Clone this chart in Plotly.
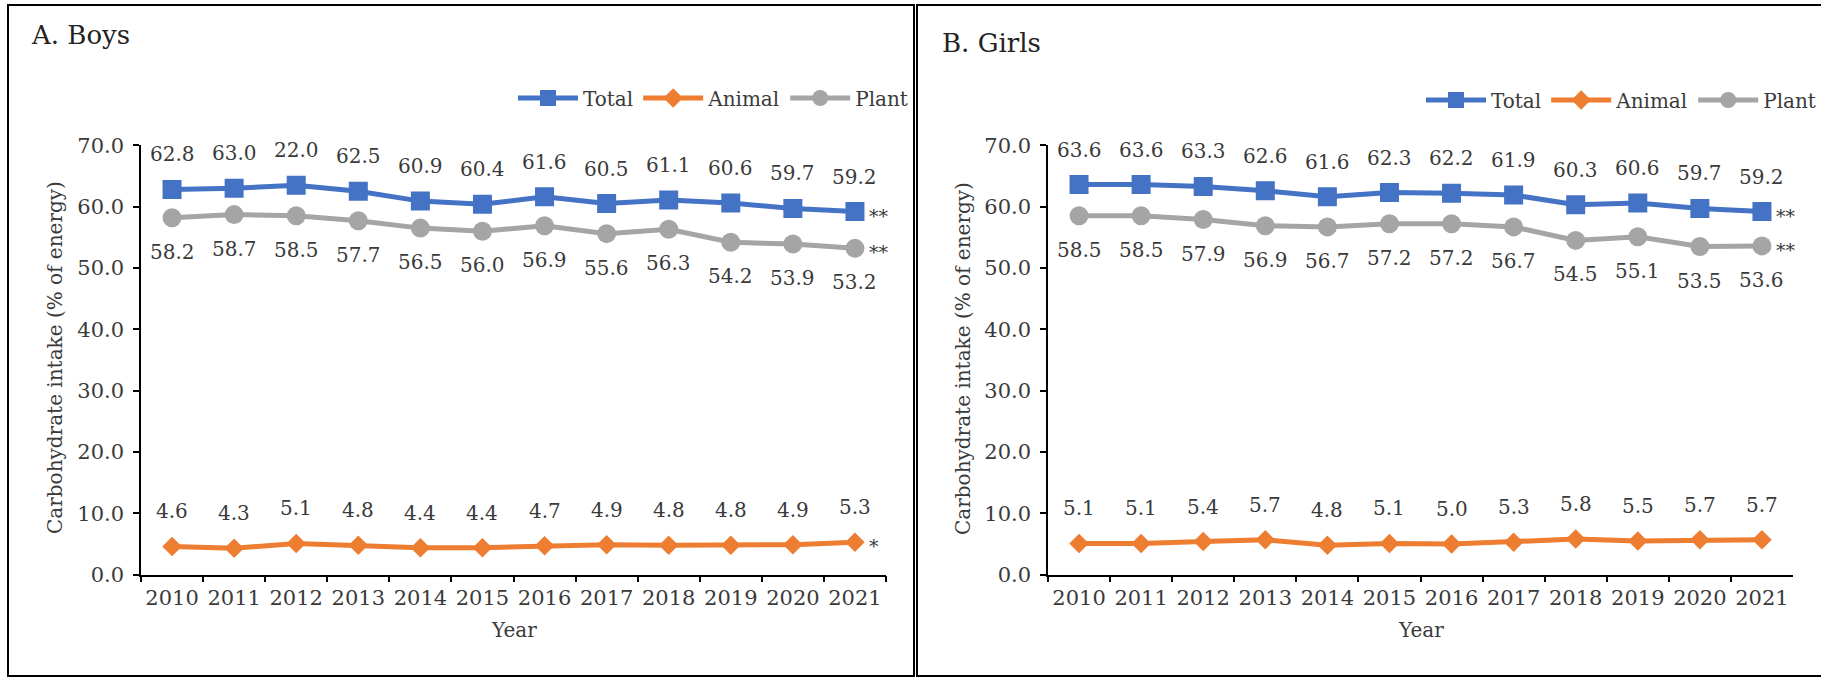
import plotly.graph_objects as go

# ---- data -------------------------------------------------------------
years = ["2010", "2011", "2012", "2013", "2014", "2015",
         "2016", "2017", "2018", "2019", "2020", "2021"]

boys_total = [62.8, 63.0, 63.5, 62.5, 60.9, 60.4, 61.6, 60.5, 61.1, 60.6, 59.7, 59.2]
boys_total_labels = ["62.8", "63.0", "22.0", "62.5", "60.9", "60.4",
                     "61.6", "60.5", "61.1", "60.6", "59.7", "59.2"]
boys_animal = [4.6, 4.3, 5.1, 4.8, 4.4, 4.4, 4.7, 4.9, 4.8, 4.8, 4.9, 5.3]
boys_plant = [58.2, 58.7, 58.5, 57.7, 56.5, 56.0, 56.9, 55.6, 56.3, 54.2, 53.9, 53.2]

girls_total = [63.6, 63.6, 63.3, 62.6, 61.6, 62.3, 62.2, 61.9, 60.3, 60.6, 59.7, 59.2]
girls_animal = [5.1, 5.1, 5.4, 5.7, 4.8, 5.1, 5.0, 5.3, 5.8, 5.5, 5.7, 5.7]
girls_plant = [58.5, 58.5, 57.9, 56.9, 56.7, 57.2, 57.2, 56.7, 54.5, 55.1, 53.5, 53.6]

# trend significance markers shown after the last year
boys_sig = {"Total": "**", "Animal": "*", "Plant": "**"}
girls_sig = {"Total": "**", "Animal": "", "Plant": "**"}

y_ticks = [0, 10, 20, 30, 40, 50, 60, 70]

# ---- styling ----------------------------------------------------------
W, H = 1821, 677
FONT = "DejaVu Serif"
TXT = "#3a3a3a"
BLUE, ORANGE, GREY = "#4472C4", "#ED7D31", "#A5A5A5"


def px(x):
    return x / W


def py(y):
    return 1 - y / H


fig = go.Figure()

panels = [
    dict(name="Boys", title="A. Boys", xa="x", ya="y", legend="legend",
         total=boys_total, total_labels=boys_total_labels,
         animal=boys_animal, plant=boys_plant, sig=boys_sig,
         title_xy=(29, 35), ytitle_x=55),
    dict(name="Girls", title="B. Girls", xa="x2", ya="y2", legend="legend2",
         total=girls_total, total_labels=[f"{v:.1f}" for v in girls_total],
         animal=girls_animal, plant=girls_plant, sig=girls_sig,
         title_xy=(940, 43), ytitle_x=963),
]

annotations = []
for p in panels:
    series = [
        ("Total", p["total"], p["total_labels"], BLUE,
         dict(symbol="square", size=19), 35),
        ("Animal", p["animal"], [f"{v:.1f}" for v in p["animal"]], ORANGE,
         dict(symbol="diamond", size=15), 35),
        ("Plant", p["plant"], [f"{v:.1f}" for v in p["plant"]], GREY,
         dict(symbol="circle", size=19), -34),
    ]
    for name, vals, labels, color, mk, shift in series:
        fig.add_trace(go.Scatter(
            x=years, y=vals, name=name, mode="lines+markers",
            line=dict(color=color, width=5),
            marker=dict(color=color, line=dict(width=0), **mk),
            xaxis=p["xa"], yaxis=p["ya"], legend=p["legend"],
            hoverinfo="skip",
        ))
        # value labels; x given as category index on the category axis
        for i, (v, lab) in enumerate(zip(vals, labels)):
            annotations.append(dict(
                x=i, y=v, xref=p["xa"], yref=p["ya"], text=lab,
                showarrow=False, yshift=shift, yanchor="middle",
                font=dict(family=FONT, size=20, color=TXT),
            ))
        if p["sig"][name]:
            annotations.append(dict(
                x=len(years) - 1, y=vals[-1], xref=p["xa"], yref=p["ya"],
                text=p["sig"][name], showarrow=False, xanchor="left",
                yanchor="middle", xshift=12, yshift=-4,
                font=dict(family=FONT, size=19, color=TXT),
            ))
    # panel title
    tx, ty = p["title_xy"]
    annotations.append(dict(
        x=px(tx), y=py(ty), xref="paper", yref="paper", text=p["title"],
        showarrow=False, xanchor="left", yanchor="middle",
        font=dict(family=FONT, size=26, color="#222222"),
    ))
    # y-axis title
    annotations.append(dict(
        x=px(p["ytitle_x"]), y=py(358), xref="paper", yref="paper",
        text="Carbohydrate intake (% of energy)", textangle=-90,
        showarrow=False, xanchor="center", yanchor="middle",
        font=dict(family=FONT, size=20, color=TXT),
    ))

# x-axis titles
for cx in (513.5, 1420.5):
    annotations.append(dict(
        x=px(cx), y=py(630), xref="paper", yref="paper", text="Year",
        showarrow=False, xanchor="center", yanchor="middle",
        font=dict(family=FONT, size=20, color=TXT),
    ))

x_common = dict(
    type="category", range=[-0.5, len(years) - 0.5], autorange=False,
    showline=True, linecolor="black", linewidth=1.5,
    ticks="outside", tickson="boundaries", ticklen=6, tickwidth=1.5,
    tickcolor="black", showgrid=False, zeroline=False, tickangle=0,
    tickfont=dict(family=FONT, size=21, color=TXT), ticklabelstandoff=3,
    automargin=False, fixedrange=True,
)
y_common = dict(
    range=[0, 70], autorange=False, tickvals=y_ticks, tickformat=".1f",
    showline=True, linecolor="black", linewidth=1.5, ticks="outside",
    ticklen=6, tickwidth=1.5, tickcolor="black", showgrid=False,
    zeroline=False, tickfont=dict(family=FONT, size=21, color=TXT),
    ticklabelstandoff=5, automargin=False, fixedrange=True,
)
y_dom = [py(574.7), py(145.3)]

legend_common = dict(
    orientation="h", xanchor="right", yanchor="middle",
    font=dict(family=FONT, size=20, color=TXT), bgcolor="rgba(0,0,0,0)",
    itemwidth=60, itemclick=False, itemdoubleclick=False,
)

# panel frames
shapes = [
    dict(type="rect", xref="paper", yref="paper",
         x0=px(8), x1=px(914), y0=py(676), y1=py(5),
         line=dict(color="black", width=2)),
    dict(type="rect", xref="paper", yref="paper",
         x0=px(917), x1=px(1830), y0=py(676), y1=py(5),
         line=dict(color="black", width=2)),
]

fig.update_layout(
    width=W, height=H,
    margin=dict(l=0, r=0, t=0, b=0, pad=0, autoexpand=False),
    paper_bgcolor="white", plot_bgcolor="white",
    xaxis=dict(domain=[px(141), px(886)], anchor="y", **x_common),
    yaxis=dict(domain=y_dom, anchor="x", **y_common),
    xaxis2=dict(domain=[px(1048), px(1793)], anchor="y2", **x_common),
    yaxis2=dict(domain=y_dom, anchor="x2", **y_common),
    legend=dict(x=px(913), y=py(98), **legend_common),
    legend2=dict(x=1.0, y=py(100), **legend_common),
    annotations=annotations, shapes=shapes,
    showlegend=True,
)

fig.write_html("out.html")
